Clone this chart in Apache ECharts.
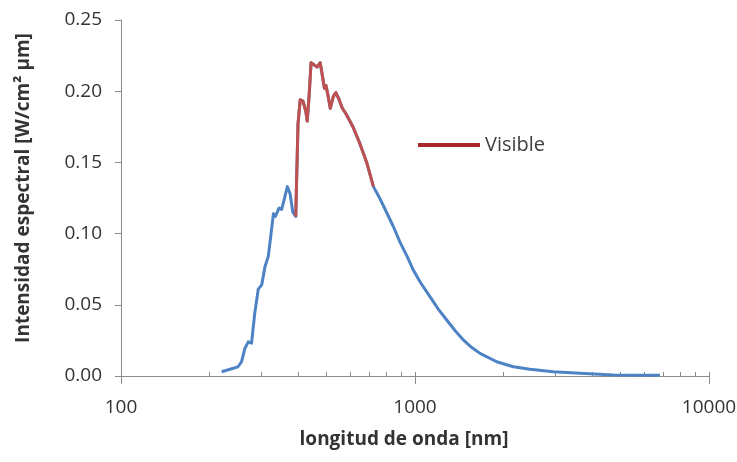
<!DOCTYPE html>
<html>
<head>
<meta charset="utf-8">
<script src="https://cdn.jsdelivr.net/npm/echarts@6/dist/echarts.min.js"></script>
<style>
html, body { margin: 0; padding: 0; background: #fff; }
#main { width: 737px; height: 462px; }
</style>
</head>
<body>
<div id="main"></div>
<script>
// longitud de onda (nm) e intensidad
var wavelength = [220, 241, 250, 257, 264, 271, 278, 285, 293, 301, 309, 317, 323, 330, 335, 345, 352, 361, 368, 376, 384, 393,
	400, 407, 416, 425, 430, 437, 443, 457, 465, 476, 485, 492, 498, 506, 515, 527, 538, 552, 566, 583, 615, 650, 685, 722,
	758, 800, 844, 889, 940, 987, 1041, 1124, 1200, 1282, 1370, 1460, 1560, 1664, 1896, 2160, 2461, 2953, 3641, 4727, 6810];
var intensity = [0.003, 0.0054, 0.0065, 0.010, 0.0195, 0.024, 0.023, 0.044, 0.061, 0.064, 0.077, 0.084, 0.098, 0.114, 0.112, 0.118, 0.117, 0.126, 0.133, 0.128, 0.115, 0.112,
	0.177, 0.194, 0.193, 0.186, 0.179, 0.199, 0.220, 0.218, 0.217, 0.220, 0.210, 0.202, 0.204, 0.197, 0.188, 0.196, 0.199, 0.194, 0.188, 0.184, 0.175, 0.163, 0.150, 0.133,
	0.125, 0.115, 0.105, 0.094, 0.084, 0.0744, 0.066, 0.0557, 0.0470, 0.0393, 0.0318, 0.0253, 0.0200, 0.0159, 0.0100, 0.0065, 0.0047, 0.0030, 0.0019, 0.0007, 0.0005];
// rango visible
var visibleRange = [393, 722];
var majorTicks = [100, 1000, 10000];
var minorTicks = [200, 300, 400, 500, 600, 700, 800, 900, 2000, 3000, 4000, 5000, 6000, 7000, 8000, 9000];

var fullData = [];
var visibleData = [];
for (var i = 0; i < wavelength.length; i++) {
	fullData.push([wavelength[i], intensity[i]]);
	if (wavelength[i] >= visibleRange[0] && wavelength[i] <= visibleRange[1]) {
		visibleData.push([wavelength[i], intensity[i]]);
	}
}

var font = '"Open Sans", sans-serif';
var axisColor = '#8c8c8c';

var option = {
	backgroundColor: '#fff',
	animation: false,
	grid: { left: 121, right: 28, top: 20, bottom: 86, outerBoundsMode: 'none', containLabel: false },
	legend: {
		data: [{ name: 'Visible', icon: 'rect' }],
		left: 413,
		top: 130,
		itemWidth: 62,
		itemHeight: 4,
		itemGap: 8,
		textStyle: { fontFamily: font, fontSize: 20, color: '#404040' }
	},
	xAxis: [
		{
			type: 'log',
			logBase: 10,
			min: 100,
			max: 10000,
			name: 'longitud de onda [nm]',
			nameLocation: 'middle',
			nameGap: 54,
			nameTextStyle: { fontFamily: font, fontSize: 19, fontWeight: 'bold', color: '#333', padding: [0, 22, 0, 0] },
			axisLine: { lineStyle: { color: axisColor, width: 1 } },
			axisTick: { show: true, length: 8, customValues: majorTicks, lineStyle: { color: axisColor } },
			axisLabel: {
				customValues: majorTicks,
				margin: 22,
				fontFamily: font,
				fontSize: 19,
				color: '#333',
				formatter: function (v) { return String(Math.round(v)); }
			},
			splitLine: { show: false }
		},
		{
			type: 'log',
			logBase: 10,
			min: 100,
			max: 10000,
			position: 'bottom',
			axisLine: { show: false },
			axisTick: { show: true, inside: true, length: 4, customValues: majorTicks.concat(minorTicks), lineStyle: { color: axisColor } },
			axisLabel: { show: false },
			splitLine: { show: false }
		}
	],
	yAxis: {
		type: 'value',
		min: 0,
		max: 0.25,
		interval: 0.05,
		name: 'Intensidad espectral [W/cm\u00b2 \u00b5m]',
		nameLocation: 'middle',
		nameGap: 88,
		nameTextStyle: { fontFamily: font, fontSize: 19, fontWeight: 'bold', color: '#333', padding: [0, 0, 0, 20] },
		axisLine: { show: true, lineStyle: { color: axisColor, width: 1 } },
		axisTick: { show: true, length: 6, lineStyle: { color: axisColor } },
		axisLabel: {
			margin: 19,
			fontFamily: font,
			fontSize: 19,
			color: '#333',
			formatter: function (v) { return v.toFixed(2); }
		},
		splitLine: { show: false }
	},
	series: [
		{
			name: 'Espectro',
			type: 'line',
			data: fullData,
			showSymbol: false,
			symbol: 'none',
			lineStyle: { color: '#4d83c4', width: 3, join: 'round' },
			itemStyle: { color: '#4d83c4' }
		},
		{
			name: 'Visible',
			type: 'line',
			data: visibleData,
			showSymbol: false,
			symbol: 'none',
			lineStyle: { color: '#c0504d', width: 3, join: 'round' },
			itemStyle: { color: '#a8282a' }
		}
	]
};

var myChart = echarts.init(document.getElementById('main'));
myChart.setOption(option);
</script>
</body>
</html>
